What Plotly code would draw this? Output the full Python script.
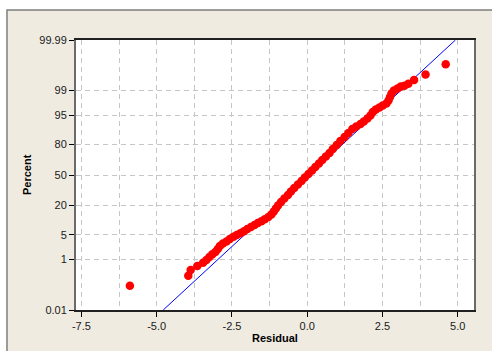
import plotly.graph_objects as go
from statistics import NormalDist

# ---- data ----
residual = [-5.89, -3.95, -3.87, -3.65, -3.46, -3.35, -3.25, -3.15, -3.05, -2.97,
            -2.90, -2.80, -2.68, -2.57, -2.45, -2.34, -2.22, -2.10, -1.99, -1.87,
            -1.75, -1.64, -1.52, -1.41, -1.29, -1.19, -1.11, -1.04, -0.97, -0.87,
            -0.76, -0.64, -0.54, -0.43, -0.31, -0.19, -0.08, 0.04, 0.16, 0.27,
            0.39, 0.50, 0.62, 0.74, 0.85, 0.98, 1.10, 1.24, 1.37, 1.50,
            1.63, 1.77, 1.88, 2.00, 2.10, 2.18, 2.28, 2.40, 2.51, 2.63,
            2.70, 2.75, 2.80, 2.88, 3.00, 3.11, 3.23, 3.36, 3.55, 3.93, 4.60]
percent = [0.114, 0.278, 0.444, 0.61, 0.786, 0.96, 1.20, 1.45, 1.70, 2.08,
           2.53, 2.96, 3.35, 3.90, 4.43, 4.92, 5.41, 6.05, 6.85, 7.61,
           8.43, 9.31, 10.11, 11.12, 12.37, 13.83, 15.74, 17.81, 20.04, 22.85,
           25.87, 29.08, 32.48, 36.02, 39.68, 43.44, 47.25, 51.10, 54.94, 58.72,
           62.43, 66.02, 69.48, 72.77, 76.30, 79.56, 82.55, 85.24, 87.63, 89.74,
           90.92, 92.00, 92.97, 94.02, 94.94, 95.86, 96.44, 96.85, 97.22, 97.55,
           97.99, 98.42, 98.76, 99.00, 99.14, 99.26, 99.30, 99.40, 99.56, 99.72, 99.886]

fit_mean = 0.07
fit_stdev = 1.305

percent_ticks = [0.01, 1, 5, 20, 50, 80, 95, 99, 99.99]
percent_tick_labels = ["0.01", "1", "5", "20", "50", "80", "95", "99", "99.99"]
x_ticks = [-7.5, -5.0, -2.5, 0.0, 2.5, 5.0]
x_tick_labels = ["-7.5", "-5.0", "-2.5", "0.0", "2.5", "5.0"]

nd = NormalDist()
zpts = [nd.inv_cdf(p / 100.0) for p in percent]
ztick = [nd.inv_cdf(p / 100.0) for p in percent_ticks]
zlo, zhi = ztick[0], ztick[-1]

fig = go.Figure()
fig.add_trace(go.Scatter(
    x=[fit_mean + fit_stdev * zlo, fit_mean + fit_stdev * zhi], y=[zlo, zhi],
    mode="lines", line=dict(color="#0000FF", width=1), hoverinfo="skip",
    showlegend=False, cliponaxis=True))
fig.add_trace(go.Scatter(
    x=residual, y=zpts, mode="markers",
    marker=dict(color="#FF0000", size=8.5, line=dict(width=0)),
    showlegend=False, cliponaxis=False))

font = "Liberation Sans, Arial, sans-serif"
grid = dict(showgrid=True, gridcolor="#C6C6C6", gridwidth=1, griddash="5px,4px")

fig.update_layout(
    width=492, height=351,
    margin=dict(l=76, r=18, t=40, b=41),
    paper_bgcolor="#FFFFFF", plot_bgcolor="#FFFFFF",
    font=dict(family=font, size=11, color="#1a1a1a"),
    shapes=[
        dict(type="rect", xref="paper", yref="paper", layer="below",
             x0=-0.1734, x1=1.06, y0=-0.17, y1=1.111,
             fillcolor="#EFEBE1", line=dict(color="#7f7f7f", width=1.5)),
        dict(type="rect", xref="paper", yref="paper", layer="below",
             x0=0, x1=1, y0=0, y1=1, fillcolor="#FFFFFF", line=dict(width=0)),
    ],
    annotations=[
        dict(text="<b>Percent</b>", xref="paper", yref="paper", x=-0.123, y=0.5,
             xanchor="center", yanchor="middle",
             textangle=-90, showarrow=False, font=dict(family=font, size=11, color="#000")),
        dict(text="<b>Residual</b>", xref="paper", yref="paper", x=0.5, y=-0.103,
             xanchor="center", yanchor="middle",
             showarrow=False, font=dict(family=font, size=11, color="#000")),
    ],
)
fig.update_xaxes(
    range=[-7.68, 5.54], tickvals=x_ticks, ticktext=x_tick_labels,
    ticks="outside", ticklen=5, tickcolor="#000", tickwidth=1,
    showline=True, linecolor="#202020", linewidth=2, mirror=True,
    zeroline=False, **grid,
    minor=dict(dtick=1.25, tick0=0, showgrid=True, gridcolor="#C6C6C6",
               griddash="5px,4px", ticks=""),
)
fig.update_yaxes(
    range=[zlo, zhi], tickvals=ztick, ticktext=percent_tick_labels,
    ticks="outside", ticklen=5, tickcolor="#000", tickwidth=1,
    showline=True, linecolor="#6a6a6a", linewidth=2, mirror=True,
    zeroline=False, **grid,
)

fig.write_html("out.html")
